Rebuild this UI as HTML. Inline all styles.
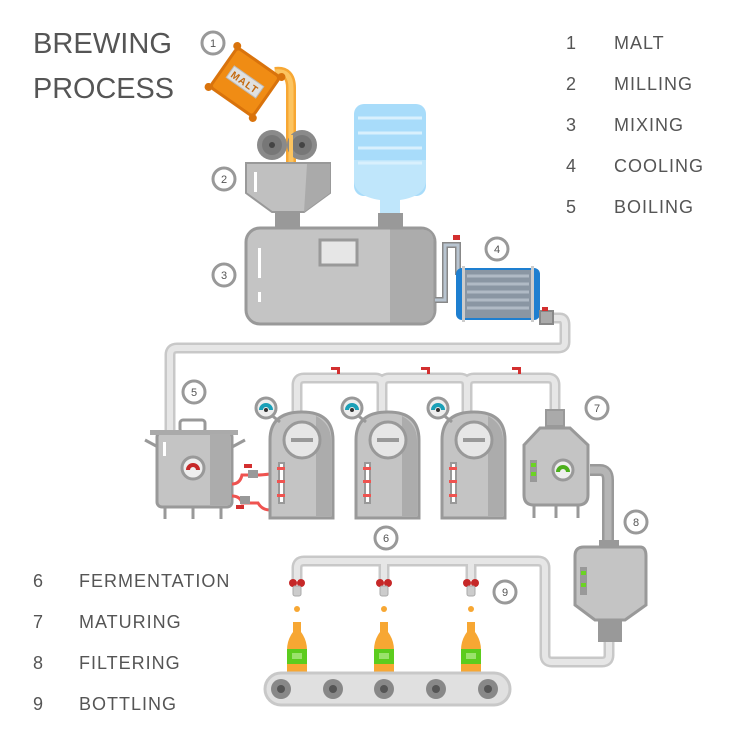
<!DOCTYPE html>
<html><head><meta charset="utf-8"><style>html,body{margin:0;padding:0;background:#fff}svg{display:block}</style></head>
<body>
<svg width="740" height="740" viewBox="0 0 740 740" xmlns="http://www.w3.org/2000/svg" font-family="Liberation Sans, sans-serif">
<rect width="740" height="740" fill="#fff"/>
<!-- titles -->
<g fill="#555" font-size="29">
<text x="33" y="53" textLength="139" lengthAdjust="spacingAndGlyphs">BREWING</text>
<text x="33" y="98" textLength="141" lengthAdjust="spacingAndGlyphs">PROCESS</text>
</g>
<g fill="#555" font-size="18">
<text x="566" y="49">1</text><text x="614" y="49" letter-spacing="1">MALT</text>
<text x="566" y="90">2</text><text x="614" y="90" letter-spacing="1">MILLING</text>
<text x="566" y="131">3</text><text x="614" y="131" letter-spacing="1">MIXING</text>
<text x="566" y="172">4</text><text x="614" y="172" letter-spacing="1">COOLING</text>
<text x="566" y="213">5</text><text x="614" y="213" letter-spacing="1">BOILING</text>
<text x="33" y="587">6</text><text x="79" y="587" letter-spacing="1">FERMENTATION</text>
<text x="33" y="628">7</text><text x="79" y="628" letter-spacing="1">MATURING</text>
<text x="33" y="669">8</text><text x="79" y="669" letter-spacing="1">FILTERING</text>
<text x="33" y="710">9</text><text x="79" y="710" letter-spacing="1">BOTTLING</text>
</g>
<!-- number circles -->
<g fill="#fff" stroke="#999" stroke-width="3">
<circle cx="213" cy="43" r="11"/><circle cx="224" cy="179" r="11"/><circle cx="224" cy="275" r="11"/>
<circle cx="497" cy="249" r="11"/><circle cx="194" cy="392" r="11"/><circle cx="597" cy="408" r="11"/>
<circle cx="386" cy="538" r="11"/><circle cx="636" cy="522" r="11"/><circle cx="505" cy="592" r="11"/>
</g>
<g fill="#555" font-size="11" text-anchor="middle">
<text x="213" y="47">1</text><text x="224" y="183">2</text><text x="224" y="279">3</text>
<text x="497" y="253">4</text><text x="194" y="396">5</text><text x="597" y="412">7</text>
<text x="386" y="542">6</text><text x="636" y="526">8</text><text x="505" y="596">9</text>
</g>
<!-- big pipes -->
<g fill="none" stroke-linejoin="round">
<path d="M545 318 H560 Q565 318 565 325 V342 Q565 348 558 348 H177 Q170 348 170 355 V432" stroke="#c8c8c8" stroke-width="11"/>
<path d="M545 318 H560 Q565 318 565 325 V342 Q565 348 558 348 H177 Q170 348 170 355 V432" stroke="#e6e6e6" stroke-width="6"/>
<path d="M297 415 V385 Q297 378 304 378 H375 Q382 378 382 385 V415 M382 415 V385 Q382 378 389 378 H460 Q467 378 467 385 V415 M467 415 V385 Q467 378 474 378 H548 Q555 378 555 385 V412" stroke="#c8c8c8" stroke-width="11"/>
<path d="M297 415 V385 Q297 378 304 378 H375 Q382 378 382 385 V415 M382 415 V385 Q382 378 389 378 H460 Q467 378 467 385 V415 M467 415 V385 Q467 378 474 378 H548 Q555 378 555 385 V412" stroke="#e6e6e6" stroke-width="6"/>
<path d="M609 630 V655 Q609 662 602 662 H552 Q545 662 545 655 V568 Q545 561 538 561 H304 Q297 561 297 568 V580 M384 561 V580 M471 561 V580" stroke="#c8c8c8" stroke-width="11"/>
<path d="M609 630 V655 Q609 662 602 662 H552 Q545 662 545 655 V568 Q545 561 538 561 H304 Q297 561 297 568 V580 M384 561 V580 M471 561 V580" stroke="#e6e6e6" stroke-width="6"/>
<path d="M590 470 H600 Q608 470 608 480 V545" stroke="#999" stroke-width="12"/>
<path d="M590 470 H600 Q608 470 608 480 V545" stroke="#b5b5b5" stroke-width="7"/>
</g>
<!-- red valves on top pipes -->
<g fill="#d32f2f"><rect x="331" y="367" width="8" height="3"/><rect x="337" y="367" width="3" height="7"/>
<rect x="421" y="367" width="8" height="3"/><rect x="427" y="367" width="3" height="7"/>
<rect x="512" y="367" width="8" height="3"/><rect x="518" y="367" width="3" height="7"/></g>
<!-- malt stream & bag -->
<path d="M275 72 Q291 70 291 88 V162" stroke="#f7a733" stroke-width="10" fill="none"/>
<path d="M275 72 Q291 70 291 88 V162" stroke="#fcc460" stroke-width="5" fill="none"/>
<g transform="translate(245 82) rotate(35)">
<rect x="-26" y="-24" width="52" height="48" rx="4" fill="#f08c14" stroke="#d9730c" stroke-width="3"/>
<circle cx="-27" cy="-25" r="4" fill="#d9730c"/><circle cx="27" cy="-25" r="4" fill="#d9730c"/>
<circle cx="-27" cy="25" r="4" fill="#d9730c"/><circle cx="27" cy="25" r="4" fill="#d9730c"/>
<rect x="-18" y="-7" width="36" height="14" fill="#e0e0e0" stroke="#bbb"/>
<text x="0" y="4" font-size="10" text-anchor="middle" fill="#c46a10" font-weight="bold" letter-spacing="1">MALT</text>
</g>
<!-- rollers -->
<circle cx="272" cy="145" r="15" fill="#8a8a8a"/><circle cx="272" cy="145" r="10" fill="#777"/><circle cx="272" cy="145" r="3" fill="#444"/>
<circle cx="302" cy="145" r="15" fill="#8a8a8a"/><circle cx="302" cy="145" r="10" fill="#777"/><circle cx="302" cy="145" r="3" fill="#444"/>
<rect x="289" y="135" width="4" height="28" fill="#fcc460"/>
<!-- hopper -->
<path d="M246 163 H330 V193 L304 212 H272 L246 193 Z" fill="#c0c0c0" stroke="#999" stroke-width="2"/>
<path d="M307 164 H330 V193 L304 212 Z" fill="#aaa"/>
<rect x="254" y="172" width="3" height="20" fill="#fff"/>
<rect x="275" y="212" width="25" height="18" fill="#999"/>
<!-- water bottle -->
<rect x="380" y="190" width="20" height="25" fill="#bfe6fb"/>
<rect x="354" y="104" width="72" height="92" rx="10" fill="#a8dcfa"/>
<path d="M354 160 H426 V180 Q426 196 400 200 H380 Q354 196 354 180Z" fill="#bfe6fb"/>
<g stroke="#d8f0fd" stroke-width="3"><line x1="358" y1="118" x2="422" y2="118"/><line x1="358" y1="133" x2="422" y2="133"/><line x1="358" y1="148" x2="422" y2="148"/><line x1="358" y1="163" x2="422" y2="163"/></g>
<rect x="378" y="213" width="25" height="17" fill="#999"/>
<!-- tank -->
<rect x="246" y="228" width="189" height="96" rx="14" fill="#c4c4c4" stroke="#999" stroke-width="3"/>
<path d="M390 229.5 H421 Q433.5 229.5 433.5 242 V310 Q433.5 322.5 421 322.5 H390Z" fill="#acacac"/>
<rect x="320" y="240" width="37" height="25" fill="#e6e6e6" stroke="#999" stroke-width="3"/>
<rect x="258" y="248" width="3" height="30" fill="#fff"/><rect x="258" y="292" width="3" height="10" fill="#fff"/>
<!-- cooler pipes -->
<path d="M435 300 H445 V245 H458 V275" stroke="#888" stroke-width="6" fill="none"/>
<path d="M435 300 H445 V245 H458 V275" stroke="#b8c4d0" stroke-width="3" fill="none"/>
<rect x="453" y="235" width="7" height="5" fill="#d32f2f"/>
<rect x="456" y="268" width="84" height="52" rx="6" fill="#1e7fd0"/>
<rect x="463" y="270" width="70" height="48" fill="#8a96a3"/>
<g stroke="#b0bac5" stroke-width="3"><line x1="467" y1="276" x2="529" y2="276"/><line x1="467" y1="284" x2="529" y2="284"/><line x1="467" y1="292" x2="529" y2="292"/><line x1="467" y1="300" x2="529" y2="300"/><line x1="467" y1="308" x2="529" y2="308"/></g>
<rect x="462" y="266" width="3" height="56" fill="#ccc"/><rect x="531" y="266" width="3" height="56" fill="#ccc"/>
<rect x="540" y="311" width="13" height="13" fill="#aaa" stroke="#888" stroke-width="2"/>
<rect x="542" y="307" width="6" height="4" fill="#d32f2f"/>
<!-- kettle -->
<g stroke="#999" stroke-width="3">
<line x1="145" y1="440" x2="158" y2="447"/><line x1="232" y1="447" x2="245" y2="440"/>
<line x1="165" y1="505" x2="165" y2="519"/><line x1="193" y1="505" x2="193" y2="519"/><line x1="221" y1="505" x2="221" y2="519"/>
<rect x="180" y="420" width="25" height="12" rx="3" fill="none"/>
</g>
<rect x="157" y="432" width="75" height="75" rx="5" fill="#c4c4c4" stroke="#999" stroke-width="3"/>
<rect x="150" y="430" width="88" height="5" fill="#aaa"/>
<rect x="210" y="434" width="20" height="71" fill="#acacac"/>
<rect x="163" y="442" width="3" height="14" fill="#fff"/>
<circle cx="193" cy="468" r="11" fill="#eee" stroke="#999" stroke-width="3"/>
<path d="M186 470 A7 7 0 0 1 200 470 H196 A3 3 0 0 0 190 470Z" fill="#c62828"/>
<!-- red hoses -->
<path d="M232 484 Q240 484 242 475 H258 Q262 475 270 474" stroke="#ef5350" stroke-width="3" fill="none"/>
<path d="M232 496 Q240 496 242 503 H258 Q262 510 270 510" stroke="#ef5350" stroke-width="3" fill="none"/>
<rect x="248" y="470" width="10" height="8" fill="#999"/><rect x="240" y="496" width="10" height="8" fill="#999"/>
<rect x="244" y="464" width="8" height="4" fill="#d32f2f"/><rect x="236" y="505" width="8" height="4" fill="#d32f2f"/>
<!-- fermenters -->
<g id="f">
<path d="M270 518 V440 Q270 412 302 412 Q333 412 333 440 V518Z" fill="#c4c4c4" stroke="#999" stroke-width="3"/>
<path d="M316 416 Q331 424 331 440 V516 H316Z" fill="#acacac"/>
<circle cx="302" cy="440" r="18" fill="#e6e6e6" stroke="#999" stroke-width="3"/>
<rect x="291" y="438" width="22" height="4" fill="#999"/>
<rect x="278" y="462" width="7" height="42" fill="#999"/><rect x="280" y="464" width="3" height="38" fill="#fff"/>
<rect x="277" y="467" width="8" height="3" fill="#ef5350"/><rect x="277" y="480" width="8" height="3" fill="#ef5350"/><rect x="277" y="494" width="8" height="3" fill="#ef5350"/>
<line x1="270" y1="414" x2="280" y2="422" stroke="#999" stroke-width="3"/>
<circle cx="266" cy="408" r="10" fill="#eee" stroke="#999" stroke-width="3"/>
<path d="M259 410 A7 7 0 0 1 273 410 H269 A3 3 0 0 0 263 410Z" fill="#1aa0b8"/>
<circle cx="266" cy="410" r="2" fill="#333"/>
</g>
<use href="#f" x="86"/><use href="#f" x="172"/>
<!-- maturing tank -->
<rect x="546" y="410" width="18" height="16" fill="#aaa" stroke="#999" stroke-width="2"/>
<path d="M524 445 L540 428 H570 L588 445 V495 Q588 505 578 505 H534 Q524 505 524 495Z" fill="#c4c4c4" stroke="#999" stroke-width="3"/>
<g stroke="#999" stroke-width="3"><line x1="534" y1="505" x2="534" y2="518"/><line x1="556" y1="505" x2="556" y2="518"/><line x1="578" y1="505" x2="578" y2="518"/></g>
<rect x="530" y="460" width="7" height="22" fill="#999"/><rect x="531" y="463" width="5" height="4" fill="#6cd424"/><rect x="531" y="472" width="5" height="4" fill="#6cd424"/>
<circle cx="563" cy="470" r="10" fill="#eee" stroke="#999" stroke-width="3"/>
<path d="M556 472 A7 7 0 0 1 570 472 H566 A3 3 0 0 0 560 472Z" fill="#4caf1c"/>
<!-- filter -->
<rect x="599" y="540" width="20" height="8" fill="#999"/>
<path d="M575 556 Q575 547 584 547 H640 Q646 547 646 556 V605 L625 620 H595 L575 605Z" fill="#c4c4c4" stroke="#999" stroke-width="3"/>
<rect x="598" y="620" width="24" height="22" fill="#999"/>
<rect x="580" y="567" width="7" height="28" fill="#999"/><rect x="581" y="571" width="5" height="4" fill="#6cd424"/><rect x="581" y="583" width="5" height="4" fill="#6cd424"/>
<!-- nozzles and bottles -->
<g id="b">
<circle cx="293" cy="583" r="4" fill="#c62828"/><circle cx="301" cy="583" r="4" fill="#c62828"/>
<rect x="293" y="586" width="8" height="10" rx="2" fill="#ccc" stroke="#aaa"/>
<circle cx="297" cy="609" r="3" fill="#f7a733"/>
<path d="M293 622 H301 V632 Q307 640 307 650 V672 H287 V650 Q287 640 293 632Z" fill="#f7a733"/>
<rect x="287" y="649" width="20" height="15" fill="#5ccc1e"/><rect x="292" y="653" width="10" height="6" fill="#9ae26c"/>
</g>
<use href="#b" x="87"/><use href="#b" x="174"/>
<!-- conveyor -->
<rect x="265" y="673" width="245" height="32" rx="16" fill="#e0e0e0" stroke="#c8c8c8" stroke-width="3"/>
<g fill="#888"><circle cx="281" cy="689" r="10"/><circle cx="333" cy="689" r="10"/><circle cx="384" cy="689" r="10"/><circle cx="436" cy="689" r="10"/><circle cx="488" cy="689" r="10"/></g>
<g fill="#555"><circle cx="281" cy="689" r="4"/><circle cx="333" cy="689" r="4"/><circle cx="384" cy="689" r="4"/><circle cx="436" cy="689" r="4"/><circle cx="488" cy="689" r="4"/></g>
</svg>
</body></html>
